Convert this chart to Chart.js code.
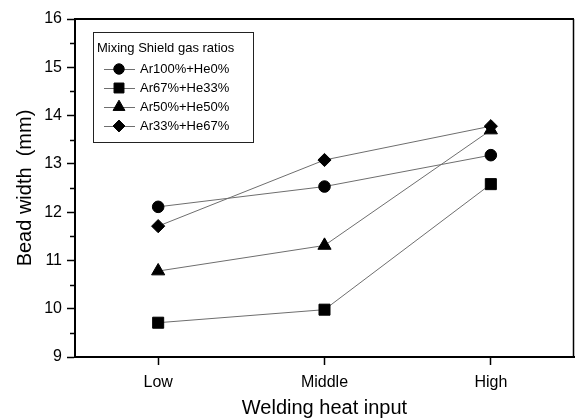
<!DOCTYPE html>
<html>
<head>
<meta charset="utf-8">
<script src="https://cdn.jsdelivr.net/npm/chart.js@4/dist/chart.umd.min.js"></script>
<style>
  html, body { margin: 0; padding: 0; background: #fff; }
  canvas { display: block; }
</style>
</head>
<body>
<canvas id="beadChart" width="575" height="419"></canvas>
<script>
// heat input levels on the x axis
const categories = ['Low', 'Middle', 'High'];
const xPositions = [1, 2, 3];

// bead width (mm) per gas mixture
const ar100 = [12.11, 12.53, 13.18];
const ar67 = [9.71, 9.98, 12.58];
const ar50 = [10.78, 11.31, 13.70];
const ar33 = [11.71, 13.08, 13.78];

const seriesNames = ['Ar100%+He0%', 'Ar67%+He33%', 'Ar50%+He50%', 'Ar33%+He67%'];
const yTicks = [9, 10, 11, 12, 13, 14, 15, 16];
const yMinorTicks = [9.5, 10.5, 11.5, 12.5, 13.5, 14.5, 15.5];

const FONT = '"Liberation Sans", Arial, sans-serif';

function toPoints(values) {
    return values.map((v, i) => ({ x: xPositions[i], y: v }));
}

function makeSet(label, values, style, radius) {
    return {
        label: label,
        data: toPoints(values),
        borderColor: '#6e6e6e',
        borderWidth: 1,
        pointStyle: style,
        pointRadius: radius,
        pointHoverRadius: radius,
        pointBackgroundColor: '#000',
        pointBorderColor: '#000',
        pointBorderWidth: 1,
        tension: 0,
        fill: false
    };
}

const datasets = [
    makeSet(seriesNames[0], ar100, 'circle', 5.8),
    makeSet(seriesNames[1], ar67, 'rect', 7.8),
    makeSet(seriesNames[2], ar50, 'triangle', 7.6),
    makeSet(seriesNames[3], ar33, 'rectRot', 6.6)
];

// frame on top/right, minor ticks and the boxed legend
const framePlugin = {
    id: 'frame',
    afterDraw(chart) {
        const ctx = chart.ctx;
        const a = chart.chartArea;
        const y = chart.scales.y;
        ctx.save();
        ctx.strokeStyle = '#000';
        ctx.lineWidth = 2;
        ctx.beginPath();
        ctx.moveTo(a.left, a.top);
        ctx.lineTo(a.right, a.top);
        ctx.stroke();
        ctx.lineWidth = 1.5;
        ctx.beginPath();
        ctx.moveTo(a.right - 0.5, a.top);
        ctx.lineTo(a.right - 0.5, a.bottom);
        ctx.stroke();

        // minor ticks on the y axis
        ctx.lineWidth = 1.5;
        yMinorTicks.forEach(v => {
            const py = Math.round(y.getPixelForValue(v)) + 0.5;
            ctx.beginPath();
            ctx.moveTo(a.left - 5, py);
            ctx.lineTo(a.left, py);
            ctx.stroke();
        });

        // legend
        const lx = 93, ly = 32, lw = 160, lh = 110;
        ctx.lineWidth = 1;
        ctx.strokeStyle = '#222';
        ctx.strokeRect(lx + 0.5, ly + 0.5, lw, lh);
        ctx.fillStyle = '#000';
        ctx.font = '13px ' + FONT;
        ctx.textBaseline = 'middle';
        ctx.textAlign = 'left';
        ctx.fillText('Mixing Shield gas ratios', 97, 48);
        const rows = [69, 88, 107, 126];
        chart.data.datasets.forEach((ds, i) => {
            const ry = rows[i];
            ctx.strokeStyle = ds.borderColor;
            ctx.lineWidth = 1;
            ctx.beginPath();
            ctx.moveTo(104, ry + 0.5);
            ctx.lineTo(135, ry + 0.5);
            ctx.stroke();
            ctx.fillStyle = '#000';
            ctx.strokeStyle = '#000';
            Chart.helpers.drawPoint(ctx, {
                pointStyle: ds.pointStyle,
                radius: ds.pointRadius * 0.9,
                rotation: 0,
                borderWidth: 1
            }, 119, ry);
            ctx.fillText(ds.label, 140, ry);
        });
        ctx.restore();
    }
};

new Chart(document.getElementById('beadChart'), {
    type: 'line',
    data: { datasets: datasets },
    plugins: [framePlugin],
    options: {
        responsive: false,
        animation: false,
        devicePixelRatio: 1,
        layout: {
            autoPadding: false,
            padding: { top: 19, right: 1, left: 0, bottom: 0 }
        },
        plugins: {
            legend: { display: false },
            tooltip: { enabled: false }
        },
        scales: {
            x: {
                type: 'linear',
                min: 0.5,
                max: 3.5,
                afterBuildTicks: scale => {
                    scale.ticks = xPositions.map(v => ({ value: v }));
                },
                afterFit: scale => {
                    scale.height = 62;
                    scale.paddingLeft = 0;
                    scale.paddingRight = 0;
                },
                grid: {
                    drawOnChartArea: false,
                    tickLength: 8,
                    tickColor: '#000',
                    tickWidth: 1.5
                },
                border: { color: '#000', width: 2 },
                ticks: {
                    color: '#000',
                    font: { family: FONT, size: 16 },
                    padding: 8,
                    maxRotation: 0,
                    callback: v => categories[xPositions.indexOf(v)]
                },
                title: {
                    display: true,
                    text: 'Welding heat input',
                    color: '#000',
                    font: { family: FONT, size: 20, lineHeight: 1.1 },
                    padding: { top: 0, bottom: 0 }
                }
            },
            y: {
                min: 9,
                max: 16,
                afterBuildTicks: scale => {
                    scale.ticks = yTicks.map(v => ({ value: v }));
                },
                afterFit: scale => { scale.width = 75; },
                grid: {
                    drawOnChartArea: false,
                    tickLength: 8,
                    tickColor: '#000',
                    tickWidth: 1.5
                },
                border: { color: '#000', width: 2 },
                ticks: {
                    color: '#000',
                    font: { family: FONT, size: 16 },
                    padding: 5
                },
                title: {
                    display: true,
                    text: 'Bead width  (mm)',
                    color: '#000',
                    font: { family: FONT, size: 20, lineHeight: 1.1 },
                    padding: { top: 14, bottom: 0 }
                }
            }
        }
    }
});
</script>
</body>
</html>
